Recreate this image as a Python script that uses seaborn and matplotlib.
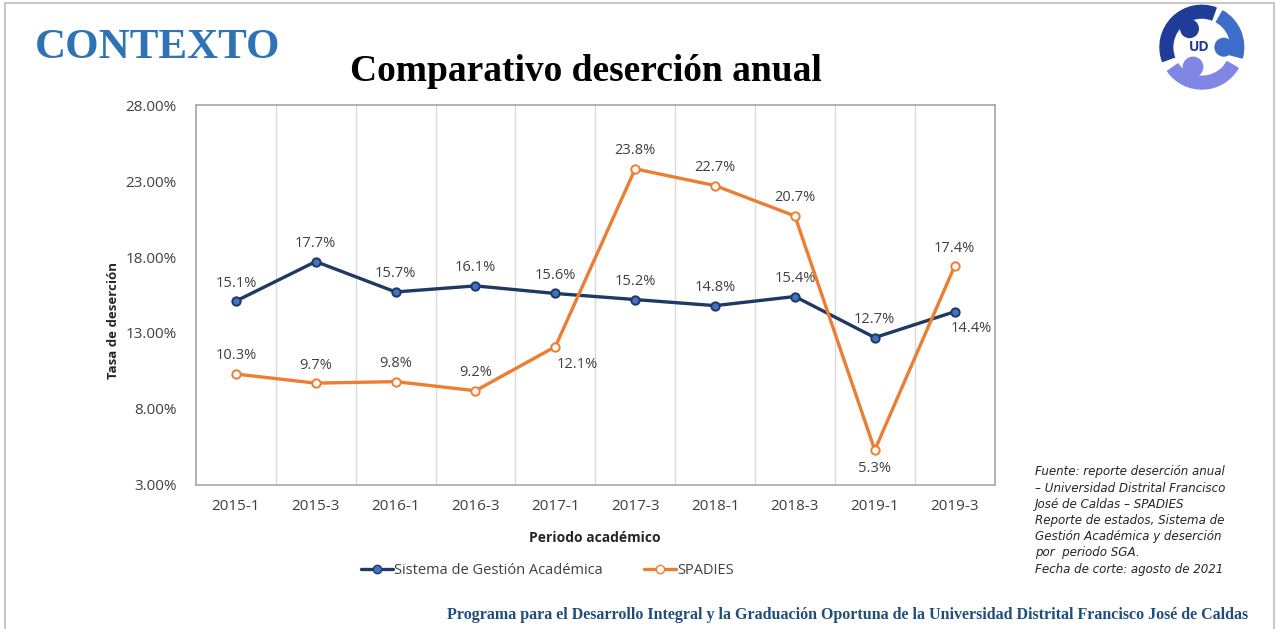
import matplotlib
matplotlib.use("Agg")
import matplotlib.pyplot as plt
import numpy as np
import pandas as pd
import seaborn as sns
from matplotlib.patches import Wedge, Circle, Rectangle

sns.set_style("white")
plt.rcParams["font.family"] = ["Open Sans", "DejaVu Sans"]

# ==============================
# Datos
# ==============================

periodos = ["2015-1", "2015-3", "2016-1", "2016-3", "2017-1",
            "2017-3", "2018-1", "2018-3", "2019-1", "2019-3"]
sga = [15.1, 17.7, 15.7, 16.1, 15.6, 15.2, 14.8, 15.4, 12.7, 14.4]
spadies = [10.3, 9.7, 9.8, 9.2, 12.1, 23.8, 22.7, 20.7, 5.3, 17.4]
yticks = [3, 8, 13, 18, 23, 28]

serie_sga = "Sistema de Gestión Académica"
serie_spadies = "SPADIES"

df = pd.DataFrame({
    "periodo": periodos * 2,
    "tasa": sga + spadies,
    "serie": [serie_sga] * len(sga) + [serie_spadies] * len(spadies),
})
df["x"] = df.groupby("serie").cumcount()

# ==============================
# Figura
# ==============================

fig = plt.figure(figsize=(12.84, 6.29), dpi=100)
ax = fig.add_axes([0.1526, 0.229, 0.622, 0.604])

azul = "#1F3864"
naranja = "#ED7D31"

sns.lineplot(data=df, x="x", y="tasa", hue="serie",
             palette={serie_sga: azul, serie_spadies: naranja},
             linewidth=2.4, ax=ax, legend=False)

# marcadores
d1 = df[df["serie"] == serie_sga]
d2 = df[df["serie"] == serie_spadies]
ax.plot(d1["x"], d1["tasa"], "o", ms=6, mfc="#4472C4", mec=azul, mew=1.4, zorder=4)
ax.plot(d2["x"], d2["tasa"], "o", ms=6, mfc="white", mec=naranja, mew=1.4, zorder=4)

# etiquetas de datos
abajo_sga = {9: (12, -12)}
abajo_spa = {4: (16, -13), 8: (0, -13)}
for i, v in enumerate(sga):
    off = abajo_sga.get(i, (0, 13))
    ax.annotate(f"{v:.1f}%", (i, v), xytext=off, textcoords="offset points",
                ha="center", va="center", fontsize=10.5, color="#404040")
for i, v in enumerate(spadies):
    off = abajo_spa.get(i, (0, 13))
    ax.annotate(f"{v:.1f}%", (i, v), xytext=off, textcoords="offset points",
                ha="center", va="center", fontsize=10.5, color="#404040")

ax.set_xlim(-0.5, len(periodos) - 0.5)
ax.set_ylim(3, 28)
ax.set_xticks(range(len(periodos)))
ax.set_xticklabels(periodos)
ax.set_yticks(yticks)
ax.set_yticklabels([f"{t:.2f}%" for t in yticks])
ax.tick_params(axis="both", labelsize=11, colors="#404040", length=0, pad=10)
ax.tick_params(axis="y", pad=14)

for b in np.arange(0.5, len(periodos) - 0.5, 1):
    ax.axvline(b, color="#D9D9D9", lw=1, zorder=0)
for s in ax.spines.values():
    s.set_color("#A6A6A6")
    s.set_linewidth(1.2)

ax.set_xlabel("Periodo académico", fontsize=10, fontweight="bold",
              color="#262626", labelpad=12)
ax.set_ylabel("Tasa de deserción", fontsize=9.5, fontweight="bold",
              color="#262626")
ax.yaxis.set_label_coords(-0.095, 0.434)

# leyenda
h1, = ax.plot([], [], "-o", color=azul, lw=2.4, ms=6, mfc="#4472C4", mec=azul)
h2, = ax.plot([], [], "-o", color=naranja, lw=2.4, ms=6, mfc="white", mec=naranja)
ax.legend([h1, h2], [serie_sga, serie_spadies], loc="upper center",
          bbox_to_anchor=(0.44, -0.172), ncol=2, frameon=False, fontsize=10.5,
          handlelength=2.2, handletextpad=0.1, columnspacing=2.8,
          labelcolor="#404040")

# ==============================
# Textos de la diapositiva
# ==============================

fig.text(0.027, 0.923, "CONTEXTO", fontsize=31, fontweight="bold",
         family="Liberation Serif", color="#2E74B5", va="center")
fig.text(0.456, 0.886, "Comparativo deserción anual", fontsize=27,
         fontweight="bold", family="Liberation Serif", color="black",
         ha="center", va="center")

fuente = ("Fuente: reporte deserción anual\n"
          "– Universidad Distrital Francisco\n"
          "José de Caldas – SPADIES\n"
          "Reporte de estados, Sistema de\n"
          "Gestión Académica y deserción\n"
          "por  periodo SGA.\n"
          "Fecha de corte: agosto de 2021")
fig.text(0.806, 0.260, fuente, fontsize=8.6, style="italic", color="#262626",
         family="DejaVu Sans", va="top", ha="left", linespacing=1.32)

fig.text(0.660, 0.022, "Programa para el Desarrollo Integral y la Graduación "
         "Oportuna de la Universidad Distrital Francisco José de Caldas",
         fontsize=11.5, fontweight="bold", family="Liberation Serif",
         color="#1F4E79", ha="center", va="center")

# marco
fig.patches.append(Rectangle((0.004, -0.01), 0.988, 1.005, transform=fig.transFigure,
                             fill=False, ec="#C8C8C8", lw=1.5))

# logo UD
lax = fig.add_axes([0.897, 0.855, 0.078, 0.14])
lax.set_xlim(-1, 1)
lax.set_ylim(-1, 1)
lax.set_aspect("equal")
lax.axis("off")
lax.add_patch(Wedge((0, 0), 0.95, 70, 200, width=0.32, color="#1F3C99"))
lax.add_patch(Wedge((0, 0), 0.95, 215, 330, width=0.32, color="#7F86E3"))
lax.add_patch(Wedge((0, 0), 0.95, 345, 60, width=0.32, color="#3D6CC9"))
lax.add_patch(Circle((0, 0), 0.63, color="white"))
lax.add_patch(Circle((-0.28, 0.42), 0.2, color="#1F3C99"))
lax.add_patch(Circle((0.5, 0.0), 0.2, color="#3D6CC9"))
lax.add_patch(Circle((-0.2, -0.45), 0.22, color="#7F86E3"))
lax.text(-0.05, 0.0, "UD", fontsize=10, fontweight="bold", color="#1F3C99",
         ha="center", va="center")

fig.savefig("out.png", dpi=100)
